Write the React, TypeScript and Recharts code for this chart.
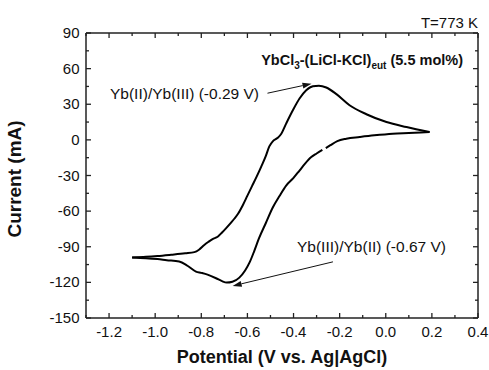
import { LineChart, Line, XAxis, YAxis, ReferenceLine } from "recharts";

const FONT = "'Liberation Sans', Arial, sans-serif";
const AXIS = "#222";
const PLOT_W = 392;
const PLOT_H = 285;

// cathodic sweep 0.2 V -> -1.1 V (the trace has a small break near -0.27 V)
const cathodicV1 = [0.19, 0.1, 0.03, -0.05, -0.113, -0.171, -0.21, -0.24, -0.26];
const cathodicI1 = [6.6, 5.8, 5.2, 3.8, 2.4, 1.0, -1.0, -4.5, -7];
const cathodicV2 = [
  -0.275, -0.3, -0.323, -0.35, -0.374, -0.4, -0.432, -0.46, -0.49, -0.52, -0.55, -0.57, -0.59, -0.61,
  -0.635, -0.665, -0.69, -0.71, -0.736, -0.773, -0.8, -0.823, -0.86, -0.896, -0.95, -0.99, -1.04, -1.1,
];
const cathodicI2 = [
  -8.5, -11.5, -14.5, -20, -25.8, -32, -38.5, -47, -57, -70, -83, -93.4, -103, -110,
  -116, -119.5, -120.2, -119, -116.5, -113.5, -112, -110.9, -106, -102.4, -101.3, -100.4, -99.6, -99,
];

// anodic sweep -1.1 V -> 0.2 V
const anodicV = [
  -1.1, -1.04, -0.99, -0.93, -0.87, -0.83, -0.81, -0.787, -0.77, -0.751, -0.729, -0.71, -0.693, -0.67,
  -0.655, -0.64, -0.62, -0.6, -0.58, -0.56, -0.54, -0.52, -0.505, -0.49, -0.47, -0.453, -0.432, -0.403,
  -0.374, -0.345, -0.316, -0.29, -0.258, -0.214, -0.157, -0.084, 0.003, 0.09, 0.19,
];
const anodicI = [
  -99, -98.5, -97.8, -96.7, -95.5, -94.5, -92.5, -88.5, -86, -83.5, -81.6, -78, -74.5, -69.5,
  -66, -62, -55, -47, -39, -31, -22.5, -13.5, -5.5, -1.2, 1.5, 5.2, 13.7, 24.9,
  34.8, 41.8, 45.2, 45.6, 44.1, 38.5, 29.2, 21.6, 15, 10.8, 6.6,
];

const xTicks = [-1.3, -1.2, -1.1, -1.0, -0.9, -0.8, -0.7, -0.6, -0.5, -0.4, -0.3, -0.2, -0.1, 0, 0.1, 0.2, 0.3, 0.4];
const yTicks = [-150, -135, -120, -105, -90, -75, -60, -45, -30, -15, 0, 15, 30, 45, 60, 75, 90];

// annotation arrows: [start, end] as [potential, current]
const oxArrow = [[-0.513, 39.3], [-0.322, 47.3]];
const redArrow = [[-0.229, -102.7], [-0.664, -123]];

const toRows = (v: number[], i: number[]) => v.map((x, k) => ({ v: x, i: i[k] }));
const seg1 = toRows(cathodicV1, cathodicI1);
const seg2 = toRows(cathodicV2, cathodicI2);
const seg3 = toRows(anodicV, anodicI);

const isMajorX = (v: number) => Math.round(Math.abs(v) * 10) % 2 === 0;
const isMajorY = (v: number) => v % 30 === 0;

const labelStyle = { fontFamily: FONT, fontSize: 15, fill: "#111" };

// bottom axis tick: inward marks on bottom and top edges, label below
function XTick(props: any) {
  const x = Number(props.x);
  const y = Number(props.y);
  const v = props.payload.value;
  const len = isMajorX(v) ? 5 : 3;
  const top = y - PLOT_H;
  return (
    <g>
      <line x1={x} x2={x} y1={y} y2={y - len} stroke={AXIS} strokeWidth={1.3} />
      <line x1={x} x2={x} y1={top} y2={top + len} stroke={AXIS} strokeWidth={1.3} />
      {isMajorX(v) && (
        <text x={x} y={y + 19} textAnchor="middle" {...labelStyle}>
          {v.toFixed(1)}
        </text>
      )}
    </g>
  );
}

// left axis tick: inward marks on left and right edges, label left
function YTick(props: any) {
  const x = Number(props.x);
  const y = Number(props.y);
  const v = props.payload.value;
  const len = isMajorY(v) ? 5 : 3;
  const right = x + PLOT_W;
  return (
    <g>
      <line x1={x} x2={x + len} y1={y} y2={y} stroke={AXIS} strokeWidth={1.3} />
      <line x1={right} x2={right - len} y1={y} y2={y} stroke={AXIS} strokeWidth={1.3} />
      {isMajorY(v) && (
        <text x={x - 6.5} y={y + 5} textAnchor="end" {...labelStyle}>
          {v}
        </text>
      )}
    </g>
  );
}

function Arrow({ x1, y1, x2, y2 }: any) {
  const len = Math.hypot(x2 - x1, y2 - y1) || 1;
  const ux = (x2 - x1) / len;
  const uy = (y2 - y1) / len;
  const bx = x2 - ux * 9;
  const by = y2 - uy * 9;
  return (
    <g>
      <line x1={x1} y1={y1} x2={bx} y2={by} stroke="#111" strokeWidth={1} />
      <polygon
        points={`${x2},${y2} ${bx - uy * 3},${by + ux * 3} ${bx + uy * 3},${by - ux * 3}`}
        fill="#111"
      />
    </g>
  );
}

export default function App() {
  return (
    <div style={{ position: "absolute", left: 0, top: 0, width: 489, height: 370, background: "#fff" }}>
      <LineChart width={489} height={370} margin={{ top: 33, right: 11, bottom: 0, left: 0 }}>
        <XAxis
          type="number"
          dataKey="v"
          domain={[-1.3, 0.4]}
          allowDataOverflow
          ticks={xTicks}
          interval={0}
          height={52}
          tickSize={0}
          tickMargin={0}
          tickLine={false}
          tick={(p: any) => <XTick {...p} />}
          axisLine={{ stroke: AXIS, strokeWidth: 1.5 }}
        />
        <YAxis
          type="number"
          domain={[-150, 90]}
          allowDataOverflow
          ticks={yTicks}
          interval={0}
          width={86}
          tickSize={0}
          tickMargin={0}
          tickLine={false}
          tick={(p: any) => <YTick {...p} />}
          axisLine={{ stroke: AXIS, strokeWidth: 1.5 }}
        />
        <ReferenceLine y={90} stroke={AXIS} strokeWidth={1.5} ifOverflow="visible" />
        <ReferenceLine x={0.4} stroke={AXIS} strokeWidth={1.5} ifOverflow="visible" />
        <Line data={seg1} dataKey="i" type="monotone" stroke="#000" strokeWidth={2} dot={false} isAnimationActive={false} />
        <Line data={seg2} dataKey="i" type="monotone" stroke="#000" strokeWidth={2} dot={false} isAnimationActive={false} />
        <Line data={seg3} dataKey="i" type="monotone" stroke="#000" strokeWidth={2} dot={false} isAnimationActive={false} />
        <ReferenceLine
          segment={[{ x: oxArrow[0][0], y: oxArrow[0][1] }, { x: oxArrow[1][0], y: oxArrow[1][1] }]}
          shape={(p: any) => <Arrow {...p} />}
        />
        <ReferenceLine
          segment={[{ x: redArrow[0][0], y: redArrow[0][1] }, { x: redArrow[1][0], y: redArrow[1][1] }]}
          shape={(p: any) => <Arrow {...p} />}
        />
      </LineChart>
      <svg
        width={489}
        height={370}
        style={{ position: "absolute", left: 0, top: 0, pointerEvents: "none" }}
        fontFamily={FONT}
        fill="#111"
      >
        <text x={478} y={27.5} textAnchor="end" fontSize={15}>T=773 K</text>
        <text x={463} y={65} textAnchor="end" fontSize={14.5} fontWeight="bold">
          YbCl
          <tspan fontSize={10} dy={4}>3</tspan>
          <tspan dy={-4}>-(LiCl-KCl)</tspan>
          <tspan fontSize={10} dy={4}>eut</tspan>
          <tspan dy={-4}> (5.5 mol%)</tspan>
        </text>
        <text x={110} y={98.5} fontSize={15.5}>Yb(II)/Yb(III) (-0.29 V)</text>
        <text x={297} y={252} fontSize={15.5}>Yb(III)/Yb(II) (-0.67 V)</text>
        <text x={282} y={363} textAnchor="middle" fontSize={18} fontWeight="bold">
          Potential (V vs. Ag|AgCl)
        </text>
        <text
          x={21}
          y={179}
          textAnchor="middle"
          fontSize={19}
          fontWeight="bold"
          transform="rotate(-90, 21, 179)"
        >
          Current (mA)
        </text>
      </svg>
    </div>
  );
}
